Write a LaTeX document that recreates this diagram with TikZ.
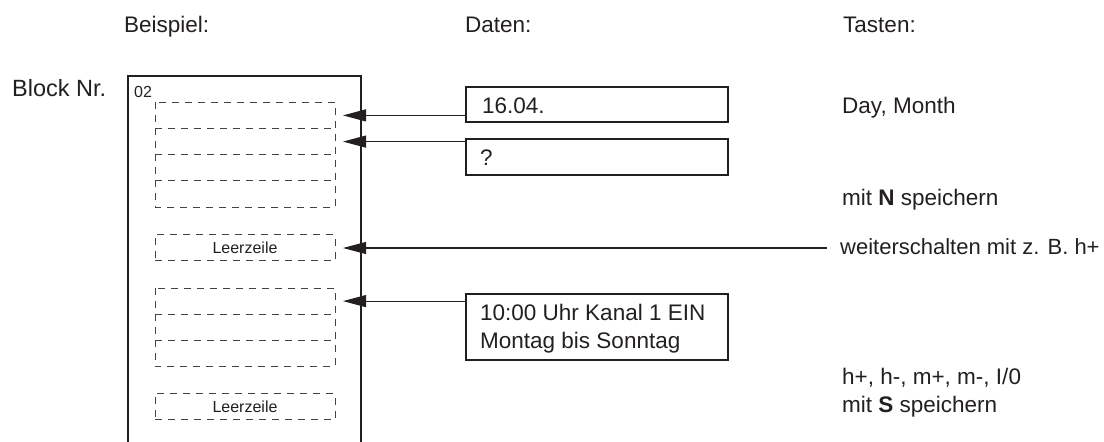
\documentclass[tikz,border=0pt]{standalone}
\usepackage{fontspec}
\setmainfont{Liberation Sans}
\usetikzlibrary{arrows.meta}
\definecolor{ink}{HTML}{231F20}
\begin{document}
\begin{tikzpicture}[x=1pt,y=-1pt,
  txt/.style={anchor=base west,inner sep=0pt,text=ink,font=\fontsize{22.5}{27}\selectfont},
  small/.style={inner sep=0pt,text=ink,font=\fontsize{16}{19}\selectfont},
  row/.style={minimum width=180pt,minimum height=26.2pt,inner sep=0pt,outer sep=0pt},
  dashline/.style={draw=ink!85,line width=1pt,dash pattern=on 7pt off 6pt},
  databox/.style={draw=ink,line width=2pt},
  arr/.style={draw=ink,line width=1.1pt,-{Triangle[length=23pt,width=12pt]}}]
\useasboundingbox (0,0) rectangle (1104,442);
% headings
\node[txt] (hb) at (124,32) {Beispiel:};
\node[txt] (hd) at (465,32) {Daten:};
\node[txt] (ht) at (843,32) {Tasten:};
\node[txt,font=\fontsize{23.5}{28}\selectfont] (blk) at (12,96) {Block Nr.};
% outer block frame (open at bottom)
\draw[draw=ink,line width=1.4pt] (128,450) -- (128,76) -- (361,76) -- (361,450);
\node[small,anchor=base west] (nr) at (134,97) {02};
% group 1 rows
\node[row,anchor=north west] (r1) at (155,102.3) {};
\node[row,anchor=north] (r2) at (r1.south) {};
\node[row,anchor=north] (r3) at (r2.south) {};
\node[row,anchor=north] (r4) at (r3.south) {};
\draw[dashline] (r1.north west) rectangle (r4.south east);
\draw[dashline] (r1.south west) -- (r1.south east);
\draw[dashline] (r2.south west) -- (r2.south east);
\draw[dashline] (r3.south west) -- (r3.south east);
% Leerzeile 1
\node[row,dashline,small,anchor=north west] (l1) at (155,234.5) {Leerzeile};
% group 2 rows
\node[row,anchor=north west] (s1) at (155,288) {};
\node[row,anchor=north] (s2) at (s1.south) {};
\node[row,anchor=north] (s3) at (s2.south) {};
\draw[dashline] (s1.north west) rectangle (s3.south east);
\draw[dashline] (s1.south west) -- (s1.south east);
\draw[dashline] (s2.south west) -- (s2.south east);
% Leerzeile 2
\node[row,dashline,small,anchor=north west] (l2) at (155,393.5) {Leerzeile};
% data boxes
\node[databox,anchor=north west,minimum width=262pt,minimum height=35pt,inner sep=0pt] (d1) at (465,86) {};
\node[txt] (d1t) at (482,113) {16.04.};
\node[databox,anchor=north west,minimum width=262pt,minimum height=36pt,inner sep=0pt] (d2) at (465,138) {};
\node[txt] (d2t) at (480,165) {?};
\node[databox,anchor=north west,minimum width=262pt,minimum height=66pt,inner sep=0pt] (d3) at (465,293) {};
\node[txt] (d3a) at (480,320) {10:00 Uhr Kanal 1 EIN};
\node[txt] (d3b) at (480,348) {Montag bis Sonntag};
% keys column
\node[txt] (k1) at (842,113) {Day, Month};
\node[txt] (k2) at (842,205) {mit \textbf{N} speichern};
\node[txt,font=\fontsize{22}{26}\selectfont] (k3) at (840,254) {weiterschalten mit z. B. h+};
\coordinate (k3s) at (827,248);
\node[txt] (k4) at (842,384) {h+, h-, m+, m-, I/0};
\node[txt] (k5) at (842,412) {mit \textbf{S} speichern};
% arrows
\draw[arr] (d1.west |- r1.east) -- ([xshift=8pt]r1.east);
\draw[arr] (d2.west |- r2.east) -- ([xshift=8pt]r2.east);
\draw[arr] (k3s) -- ([xshift=8pt]l1.east |- k3s);
\draw[arr] (d3.west |- s1.east) -- ([xshift=8pt]s1.east);
\end{tikzpicture}
\end{document}
